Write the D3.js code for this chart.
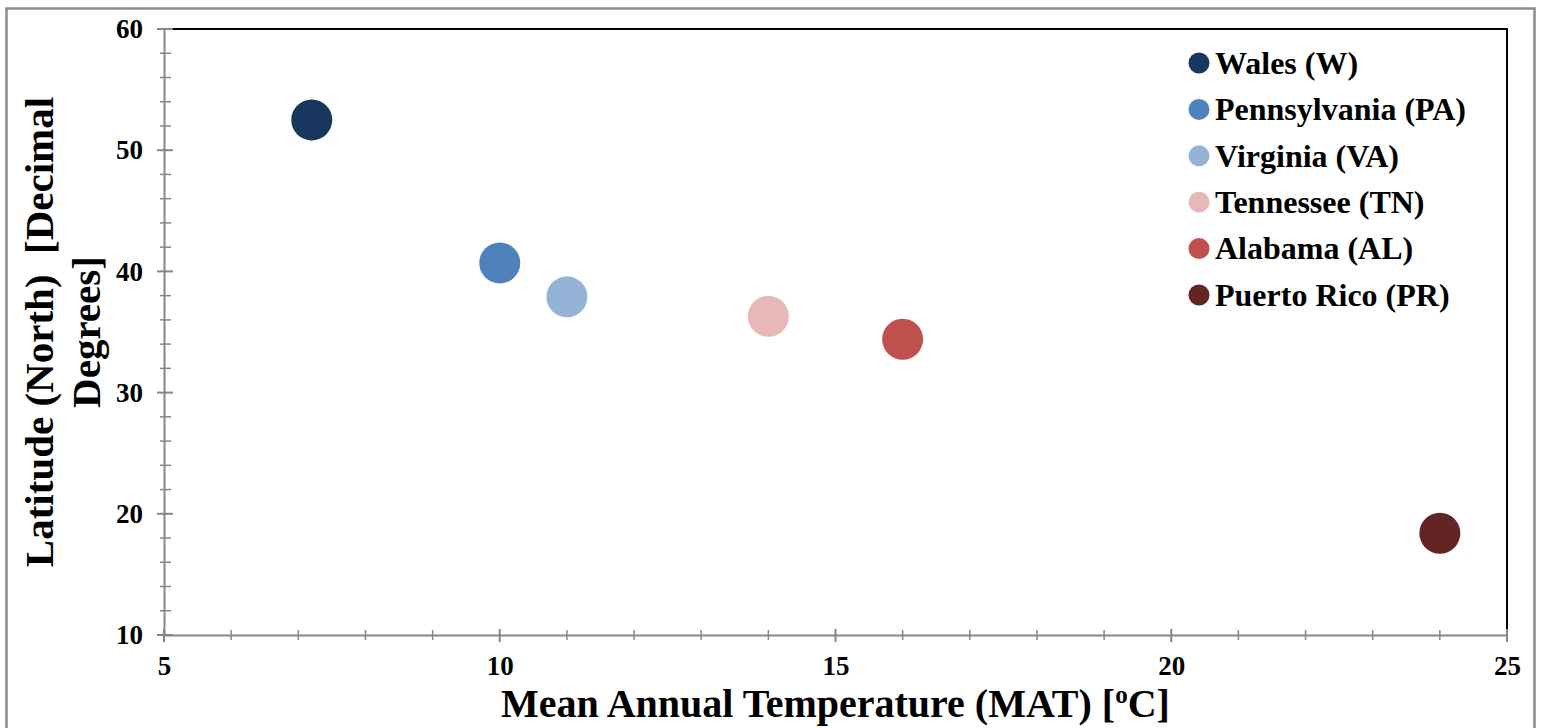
<!DOCTYPE html>
<html>
<head>
<meta charset="utf-8">
<script src="https://cdn.jsdelivr.net/npm/d3@7"></script>
<style>
  html, body { margin: 0; padding: 0; background: #fff; }
  svg { display: block; }
  text { font-family: "Liberation Serif", "Times New Roman", Times, serif; font-weight: bold; fill: #000; }
</style>
</head>
<body>
<svg id="chart" width="1542" height="728"></svg>
<script>
// Sites: mean annual temperature (°C) vs. latitude (°N)
const sites = ["Wales (W)", "Pennsylvania (PA)", "Virginia (VA)", "Tennessee (TN)", "Alabama (AL)", "Puerto Rico (PR)"];
const mat = [7.2, 10, 11, 14, 16, 24];
const latitude = [52.5, 40.7, 37.9, 36.3, 34.4, 18.4];
const siteColors = ["#17375E", "#4F81BD", "#95B3D7", "#E6B9B8", "#C0504D", "#632523"];
const xTicks = [5, 10, 15, 20, 25];
const yTicks = [10, 20, 30, 40, 50, 60];

const svg = d3.select("#chart");
const plot = { left: 164, right: 1507, top: 29, bottom: 635 };

// outer frame
svg.append("rect")
  .attr("x", 6.5).attr("y", 8.5)
  .attr("width", 1528).attr("height", 730)
  .attr("fill", "none").attr("stroke", "#8c8c8c").attr("stroke-width", 2.5);

const x = d3.scaleLinear().domain([5, 25]).range([plot.left, plot.right]);
const y = d3.scaleLinear().domain([10, 60]).range([plot.bottom, plot.top]);

// top and right frame of plot area
svg.append("path")
  .attr("d", `M${plot.left},${plot.top}H${plot.right}V${plot.bottom}`)
  .attr("fill", "none").attr("stroke", "#000").attr("stroke-width", 2);

const axisGray = "#868686";
const tickFont = 27;
const minorX = d3.range(5, 25.01, 1).filter(v => v % 5 !== 0);
const minorY = d3.range(10, 60.01, 2).filter(v => v % 10 !== 0);

function styleLabels(g) {
  g.selectAll(".tick text")
    .attr("font-size", tickFont)
    .attr("font-family", "Liberation Serif, Times New Roman, serif")
    .attr("font-weight", "bold")
    .attr("fill", "#000");
}

const gx = svg.append("g").attr("transform", `translate(0,${plot.bottom})`);
gx.call(d3.axisBottom(x).tickValues(xTicks).tickSize(0).tickPadding(21));
gx.select(".domain").attr("stroke", axisGray).attr("stroke-width", 2);
styleLabels(gx);
gx.selectAll(".major").data(xTicks).join("line")
  .attr("x1", d => x(d)).attr("x2", d => x(d)).attr("y1", -6).attr("y2", 7)
  .attr("stroke", axisGray).attr("stroke-width", 2);
gx.selectAll(".minor").data(minorX).join("line")
  .attr("x1", d => x(d)).attr("x2", d => x(d)).attr("y1", -5).attr("y2", 5)
  .attr("stroke", axisGray).attr("stroke-width", 1.5);

const gy = svg.append("g").attr("transform", `translate(${plot.left},0)`);
gy.call(d3.axisLeft(y).tickValues(yTicks).tickSize(0).tickPadding(21));
gy.select(".domain").attr("stroke", axisGray).attr("stroke-width", 2);
styleLabels(gy);
gy.selectAll(".major").data(yTicks).join("line")
  .attr("y1", d => y(d)).attr("y2", d => y(d)).attr("x1", -7).attr("x2", 9)
  .attr("stroke", axisGray).attr("stroke-width", 2);
gy.selectAll(".minor").data(minorY).join("line")
  .attr("y1", d => y(d)).attr("y2", d => y(d)).attr("x1", -4).attr("x2", 7)
  .attr("stroke", axisGray).attr("stroke-width", 1.5);

// points
svg.append("g").selectAll("circle").data(sites).join("circle")
  .attr("cx", (d, i) => x(mat[i]))
  .attr("cy", (d, i) => y(latitude[i]))
  .attr("r", 20.5)
  .attr("fill", (d, i) => siteColors[i]);

// legend
const lg = svg.append("g").attr("transform", "translate(1199,63)");
const rows = lg.selectAll("g").data(sites).join("g")
  .attr("transform", (d, i) => `translate(0,${i * 46.4})`);
rows.append("circle").attr("r", 10.5).attr("fill", (d, i) => siteColors[i]);
rows.append("text").attr("x", 16).attr("dy", "0.34em")
  .attr("font-size", 32).text(d => d);

// x axis title
const xt = svg.append("text")
  .attr("x", (plot.left + plot.right) / 2).attr("y", 717)
  .attr("text-anchor", "middle").attr("font-size", 40);
xt.append("tspan").text("Mean Annual Temperature (MAT) [");
xt.append("tspan").attr("font-size", 25).attr("dy", -14).text("o");
xt.append("tspan").attr("dy", 14).text("C]");

// y axis title (two lines)
const yt = svg.append("text")
  .attr("transform", `translate(53,${(plot.top + plot.bottom) / 2}) rotate(-90)`)
  .attr("text-anchor", "middle").attr("font-size", 41);
yt.append("tspan").attr("x", 0).attr("y", 0).text("Latitude (North)\u00a0\u00a0[Decimal");
yt.append("tspan").attr("x", 0).attr("y", 47).text("Degrees]");
</script>
</body>
</html>
